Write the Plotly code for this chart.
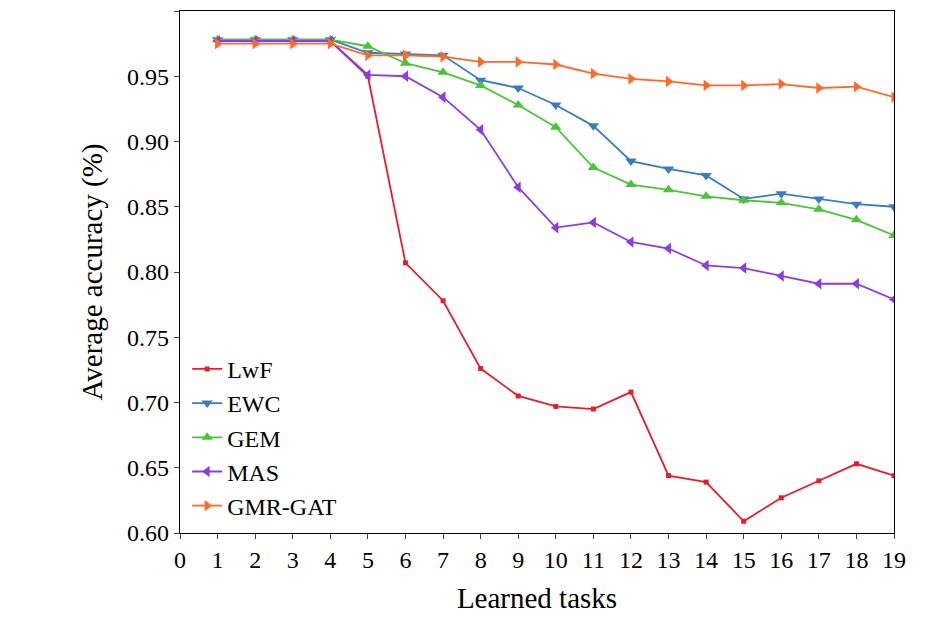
import plotly.graph_objects as go

tasks = list(range(1, 20))
lwf = [0.977,0.977,0.977,0.977,0.950,0.807,0.778,0.726,0.705,0.697,0.695,0.708,0.644,0.639,0.609,0.627,0.640,0.653,0.644]
ewc = [0.978,0.978,0.978,0.978,0.968,0.967,0.966,0.947,0.941,0.928,0.912,0.885,0.879,0.874,0.856,0.860,0.856,0.852,0.850]
gem = [0.978,0.978,0.978,0.978,0.973,0.960,0.953,0.943,0.928,0.911,0.880,0.867,0.863,0.858,0.855,0.853,0.848,0.840,0.828]
mas = [0.977,0.977,0.977,0.977,0.951,0.950,0.934,0.909,0.865,0.834,0.838,0.823,0.818,0.805,0.803,0.797,0.791,0.791,0.779]
gmr = [0.975,0.975,0.975,0.975,0.966,0.966,0.965,0.961,0.961,0.959,0.952,0.948,0.946,0.943,0.943,0.944,0.941,0.942,0.934]

series = [
    ("LwF", lwf, "#e0202a", "square", 5),
    ("EWC", ewc, "#3a7dbf", "triangle-down", 10),
    ("GEM", gem, "#4cc43a", "triangle-up", 10),
    ("MAS", mas, "#8a3ee0", "triangle-left", 10),
    ("GMR-GAT", gmr, "#ff6a2a", "triangle-right", 10),
]

fig = go.Figure()
for name, vals, col, sym, sz in series:
    fig.add_trace(go.Scatter(x=tasks, y=vals, name=name, mode="lines+markers",
                             line=dict(color=col, width=1.8),
                             marker=dict(symbol=sym, size=sz, color=col)))

fig.update_layout(
    width=945, height=633, plot_bgcolor="white", paper_bgcolor="white",
    margin=dict(l=172, r=59, t=3, b=108),
    font=dict(family="Liberation Serif", size=24, color="black"),
    legend=dict(x=0.01, y=0.01, xanchor="left", yanchor="bottom", bgcolor="rgba(0,0,0,0)",
                font=dict(size=24), tracegroupgap=0),
    showlegend=True,
)
fig.update_xaxes(range=[0, 19], tickvals=list(range(0, 20)), title_text="Learned tasks",
                 showline=True, linecolor="black", linewidth=1.2, mirror=True,
                 ticks="outside", ticklen=5, showgrid=False, zeroline=False)
fig.update_yaxes(range=[0.60, 1.00], dtick=0.05, tickformat=".2f", title_text="Average accuracy (%)",
                 showline=True, linecolor="black", linewidth=1.2, mirror=True,
                 ticks="outside", ticklen=5, showgrid=False, zeroline=False)
fig.write_html("out.html")
